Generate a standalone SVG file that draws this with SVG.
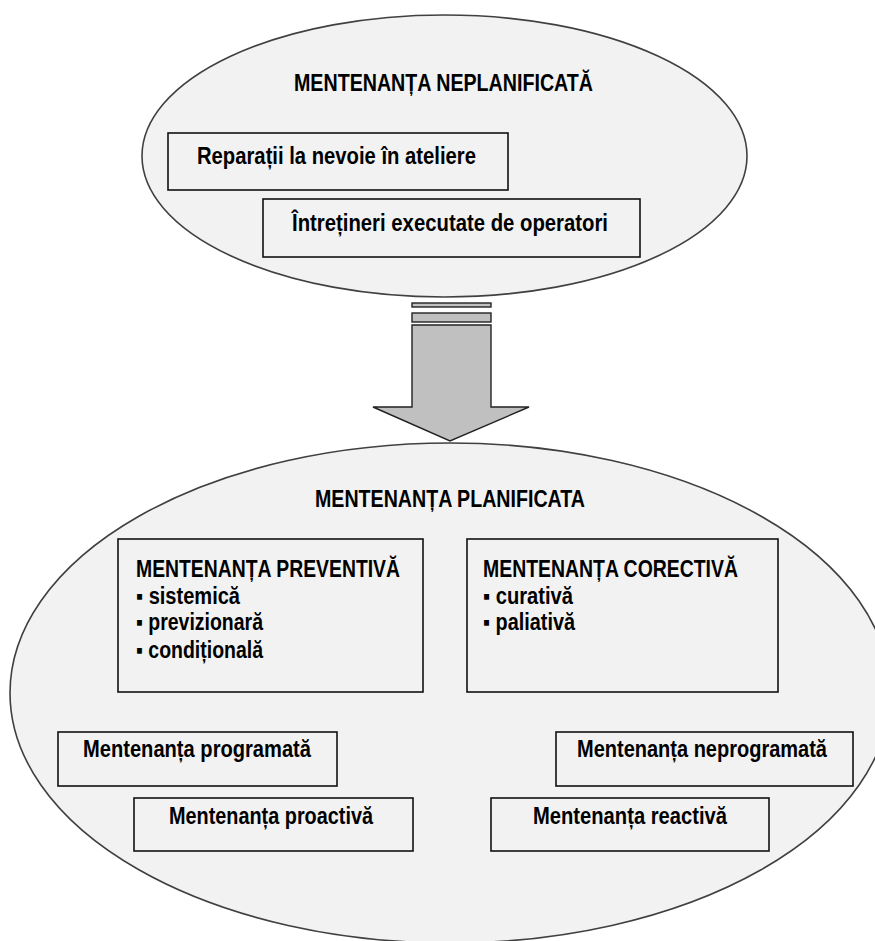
<svg xmlns="http://www.w3.org/2000/svg" width="875" height="941" viewBox="0 0 875 941">
<style>
.ell{fill:#f2f2f2;stroke:#404040;stroke-width:1.6}
.box{fill:#f2f2f2;stroke:#111;stroke-width:1.6}
.t{font-family:"Liberation Sans Narrow","Liberation Sans",Arial,sans-serif;font-weight:bold;font-size:23px;fill:#000}
.arrow{fill:#c0c0c0;stroke:#222;stroke-width:1.4}
</style>
<rect x="0" y="0" width="875" height="941" fill="#fff"/>
<g id="neplanificata">
<ellipse class="ell" cx="444.5" cy="156" rx="302.5" ry="141"/>
<text class="t" x="294" y="91" textLength="299" lengthAdjust="spacingAndGlyphs">MENTENANȚA  NEPLANIFICATĂ</text>
</g>
<g id="reparatii">
<rect class="box" x="168" y="133" width="340" height="57"/>
<text class="t" x="197" y="164" textLength="279" lengthAdjust="spacingAndGlyphs">Reparații la nevoie în ateliere</text>
</g>
<g id="intretineri">
<rect class="box" x="263" y="199" width="377" height="58"/>
<text class="t" x="292" y="231" textLength="316" lengthAdjust="spacingAndGlyphs">Întrețineri executate de operatori</text>
</g>
<g id="planificata">
<ellipse class="ell" cx="450" cy="693" rx="440" ry="250"/>
<text class="t" x="315" y="507" textLength="270" lengthAdjust="spacingAndGlyphs">MENTENANȚA  PLANIFICATA</text>
</g>
<g id="connectors">
<rect class="arrow" x="412" y="303" width="79" height="4"/>
<rect class="arrow" x="412" y="313" width="79" height="9"/>
<polygon class="arrow" points="412,325 491,325 491,407 529,407 450,441 373,407 412,407"/>
</g>
<g id="preventiva">
<rect class="box" x="118" y="539" width="305" height="153"/>
<text class="t" x="136" y="577" textLength="264" lengthAdjust="spacingAndGlyphs">MENTENANȚA  PREVENTIVĂ</text>
<text class="t" x="136" y="604" textLength="104" lengthAdjust="spacingAndGlyphs">▪ sistemică</text>
<text class="t" x="136" y="630" textLength="127" lengthAdjust="spacingAndGlyphs">▪ previzionară</text>
<text class="t" x="136" y="658" textLength="127" lengthAdjust="spacingAndGlyphs">▪ condițională</text>
</g>
<g id="corectiva">
<rect class="box" x="467" y="539" width="311" height="153"/>
<text class="t" x="483" y="577" textLength="255" lengthAdjust="spacingAndGlyphs">MENTENANȚA  CORECTIVĂ</text>
<text class="t" x="483" y="604" textLength="90" lengthAdjust="spacingAndGlyphs">▪ curativă</text>
<text class="t" x="483" y="630" textLength="92" lengthAdjust="spacingAndGlyphs">▪ paliativă</text>
</g>
<g id="programata">
<rect class="box" x="58" y="732" width="279" height="54"/>
<text class="t" x="83" y="757" textLength="228" lengthAdjust="spacingAndGlyphs">Mentenanța programată</text>
</g>
<g id="proactiva">
<rect class="box" x="134" y="798" width="279" height="53"/>
<text class="t" x="169" y="824" textLength="204" lengthAdjust="spacingAndGlyphs">Mentenanța proactivă</text>
</g>
<g id="neprogramata">
<rect class="box" x="556" y="732" width="297" height="54"/>
<text class="t" x="577" y="757" textLength="250" lengthAdjust="spacingAndGlyphs">Mentenanța neprogramată</text>
</g>
<g id="reactiva">
<rect class="box" x="491" y="798" width="278" height="53"/>
<text class="t" x="533" y="824" textLength="194" lengthAdjust="spacingAndGlyphs">Mentenanța reactivă</text>
</g>
</svg>
